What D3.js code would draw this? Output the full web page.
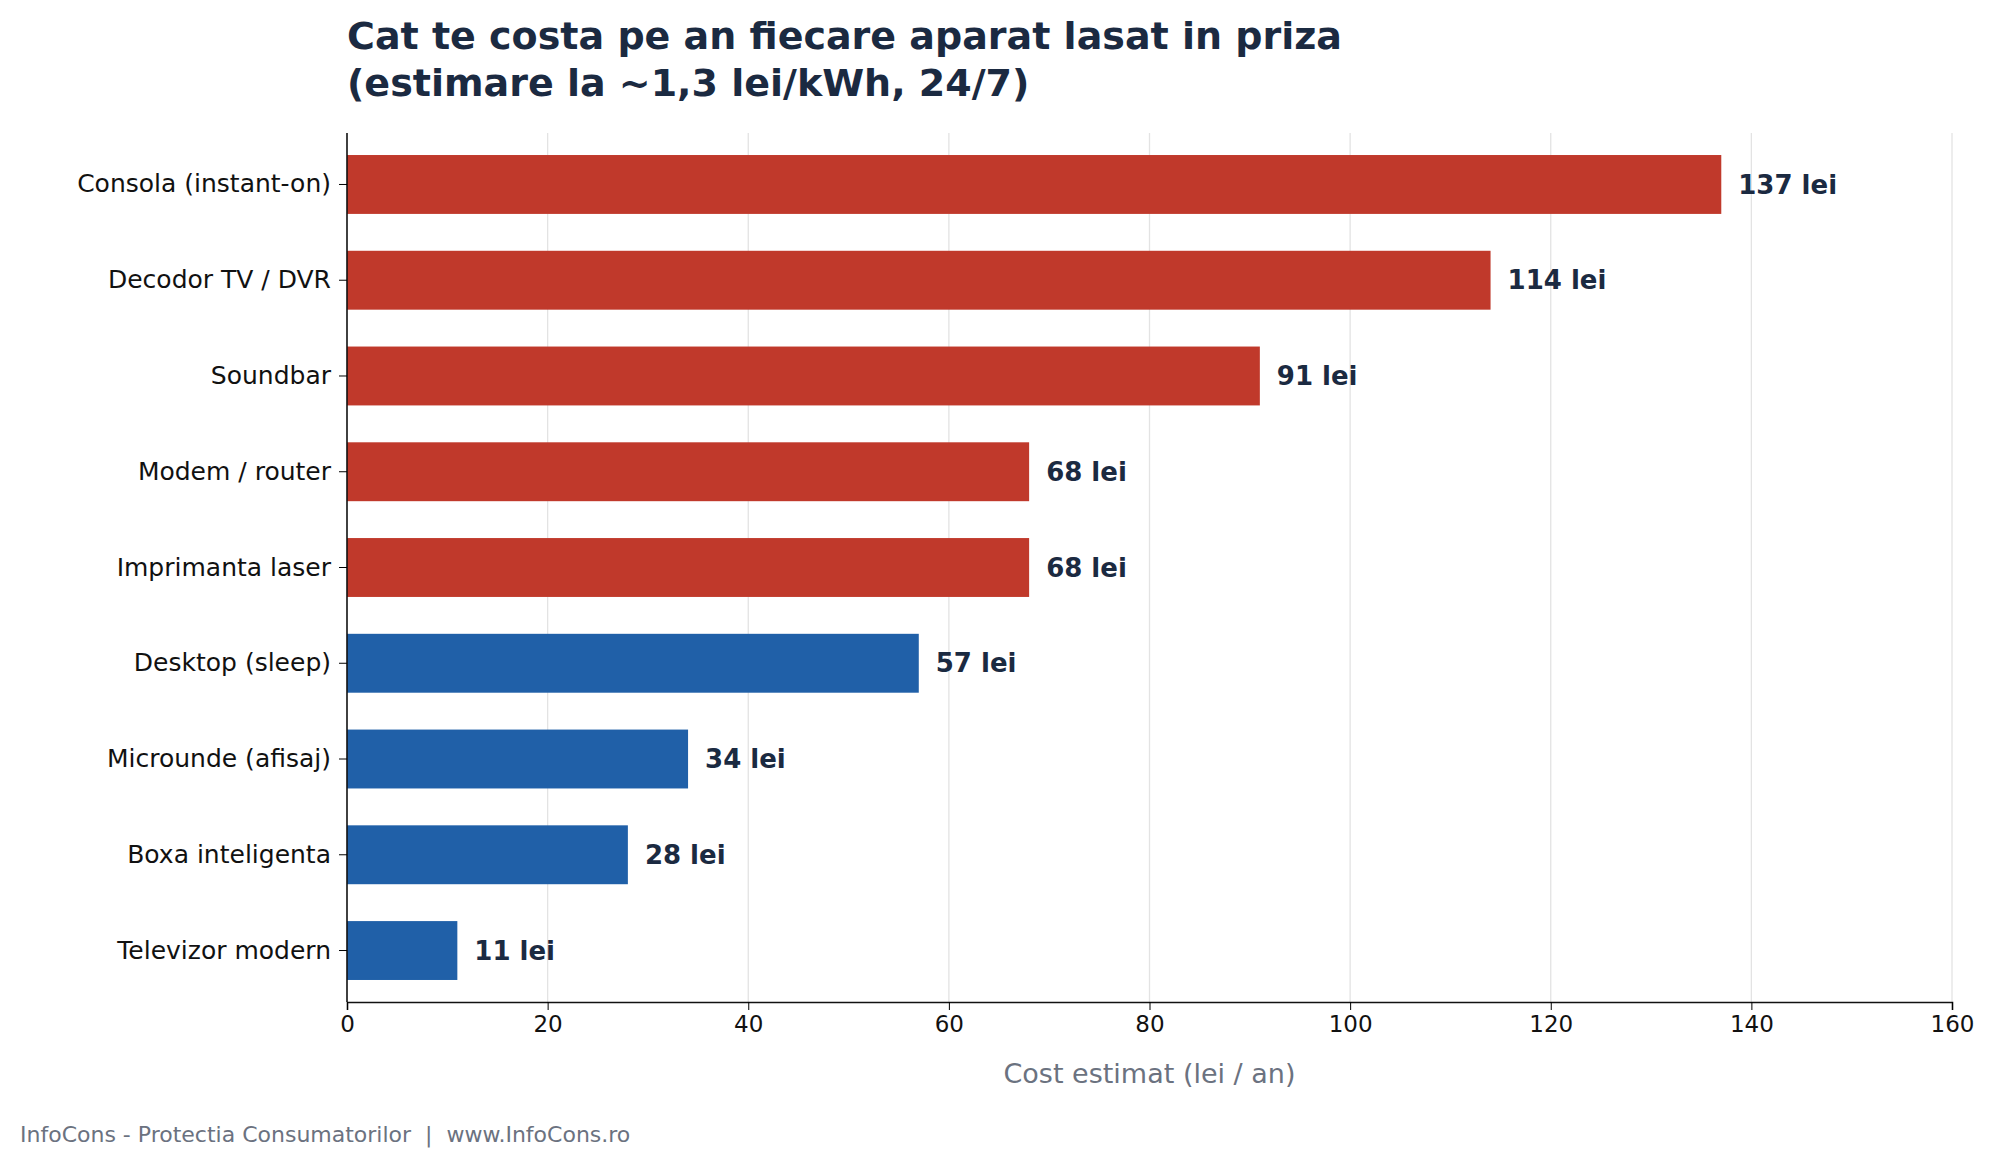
<!DOCTYPE html>
<html><head><meta charset="utf-8">
<script src="https://cdn.jsdelivr.net/npm/d3@7"></script>
<style>body{margin:0;background:#fff}text{font-family:"DejaVu Sans",sans-serif}</style>
</head><body><svg id="c" width="1989" height="1164"></svg>
<script>
const categories = ['Consola (instant-on)','Decodor TV / DVR','Soundbar','Modem / router','Imprimanta laser','Desktop (sleep)','Microunde (afisaj)','Boxa inteligenta','Televizor modern'];
const values = [137,114,91,68,68,57,34,28,11];
const highlight = [true,true,true,true,true,false,false,false,false];
const ticks = [0,20,40,60,80,100,120,140,160];

const svg = d3.select('#c');
const m = {l:347, r:1952, t:133, b:1002};
const x = d3.scaleLinear().domain([0,160]).range([m.l,m.r]);
const y = d3.scaleBand().domain(categories).range([m.t,m.b]).paddingInner(0.385).paddingOuter(0.23);

// grid
svg.append('g').selectAll('line').data(ticks.slice(1)).join('line')
  .attr('x1',d=>x(d)).attr('x2',d=>x(d)).attr('y1',m.t).attr('y2',m.b)
  .attr('stroke','#e3e3e3').attr('stroke-width',1.3);

svg.append('g').selectAll('rect').data(values).join('rect')
  .attr('x',x(0)).attr('y',(d,i)=>y(categories[i]))
  .attr('width',d=>x(d)-x(0)).attr('height',y.bandwidth())
  .attr('fill',(d,i)=>highlight[i]?'#c0392b':'#2060a8');

svg.append('g').selectAll('text').data(values).join('text')
  .attr('x',d=>x(d)+17).attr('y',(d,i)=>y(categories[i])+y.bandwidth()/2)
  .attr('dy','0.35em').attr('font-size',26).attr('font-weight','bold').attr('fill','#1b2a41')
  .text(d=>d+' lei');

const xa = svg.append('g').attr('transform',`translate(0,${m.b})`)
  .call(d3.axisBottom(x).tickValues(ticks).tickSize(8).tickPadding(6));
xa.selectAll('text').attr('font-size',23).attr('fill','#111').style('font-family','DejaVu Sans');
xa.select('.domain').attr('stroke','#111').attr('stroke-width',1.6);

const ya = svg.append('g').attr('transform',`translate(${m.l},0)`)
  .call(d3.axisLeft(y).tickSize(8).tickPadding(8));
ya.selectAll('text').attr('font-size',25).attr('fill','#111').style('font-family','DejaVu Sans');
ya.select('.domain').attr('d',`M-0,${m.t}V${m.b}`).attr('stroke','#111').attr('stroke-width',1.6);

svg.append('text').attr('x',(m.l+m.r)/2).attr('y',1083).attr('text-anchor','middle')
  .attr('font-size',27).attr('fill','#6b7280').text('Cost estimat (lei / an)');

svg.append('text').attr('x',m.l).attr('y',49).attr('font-size',38).attr('font-weight','bold').attr('fill','#1b2a41')
  .text('Cat te costa pe an fiecare aparat lasat in priza');
svg.append('text').attr('x',m.l).attr('y',96).attr('font-size',38).attr('font-weight','bold').attr('fill','#1b2a41')
  .text('(estimare la ~1,3 lei/kWh, 24/7)');

svg.append('text').attr('x',20).attr('y',1142).attr('font-size',22).attr('fill','#6b7280')
  .text('InfoCons - Protectia Consumatorilor  |  www.InfoCons.ro').attr('xml:space','preserve').style('white-space','pre');
</script></body></html>
